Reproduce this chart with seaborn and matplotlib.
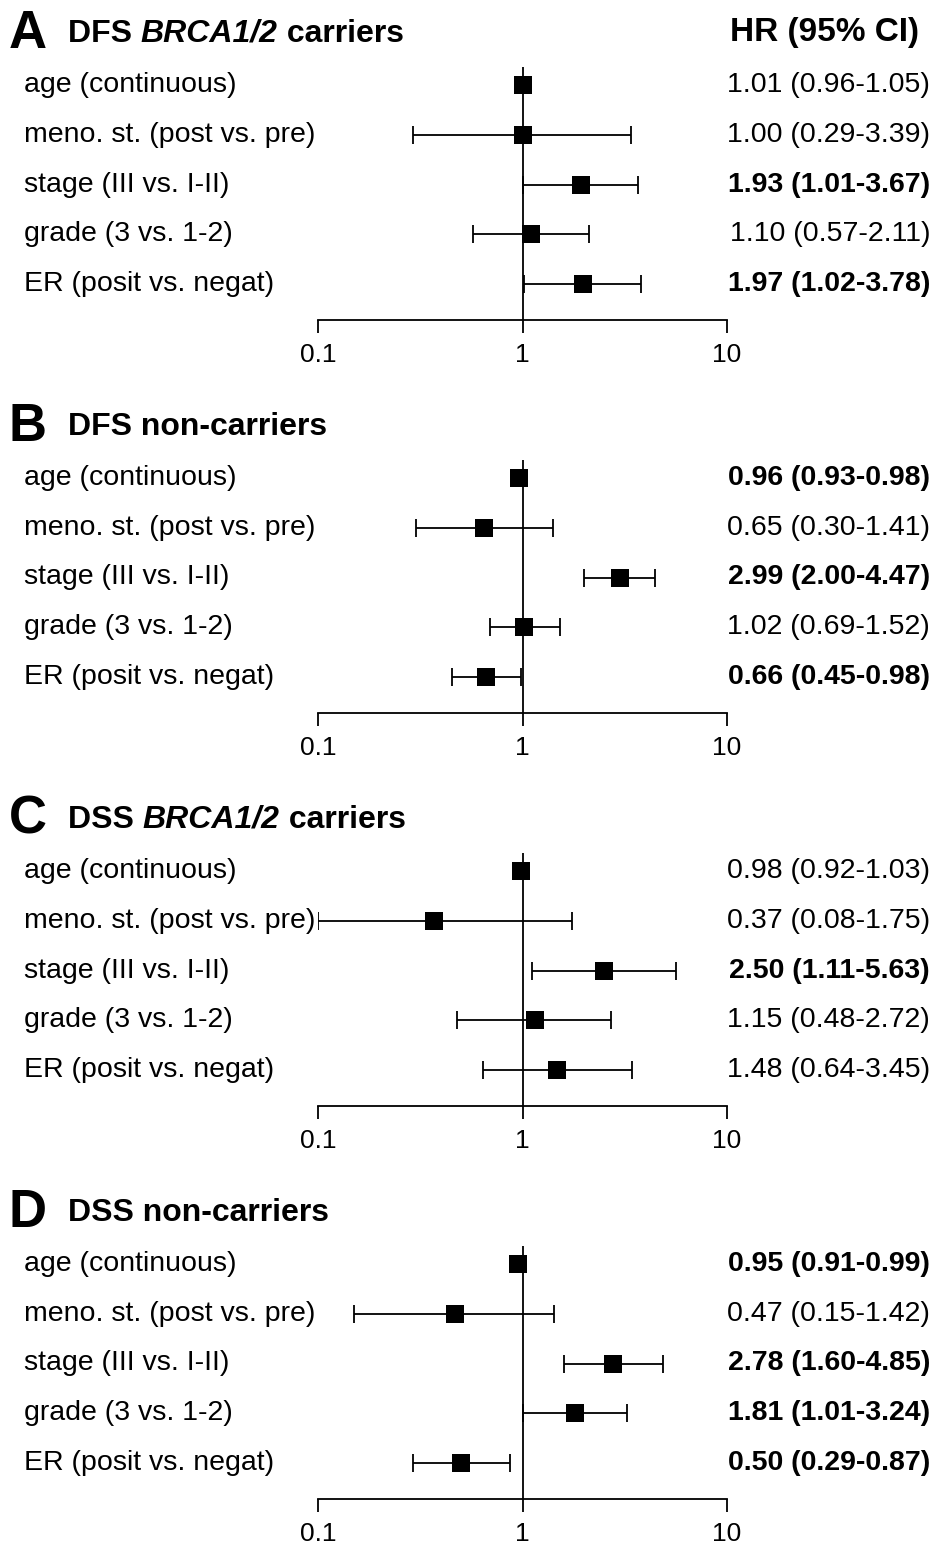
import numpy as np
import pandas as pd
import matplotlib
matplotlib.use("Agg")
import matplotlib.pyplot as plt
import matplotlib.transforms as mtransforms
import seaborn as sns

# ---- data --------------------------------------------------------------
rowLabels = ['age (continuous)', 'meno. st. (post vs. pre)', 'stage (III vs. I-II)',
             'grade (3 vs. 1-2)', 'ER (posit vs. negat)']

panelLetters = ['A', 'B', 'C', 'D']
panelTitles = [('DFS ', 'BRCA1/2', ' carriers'),
               ('DFS non-carriers', '', ''),
               ('DSS ', 'BRCA1/2', ' carriers'),
               ('DSS non-carriers', '', '')]

hrA = [1.01, 1.00, 1.93, 1.10, 1.97]
loA = [0.96, 0.29, 1.01, 0.57, 1.02]
hiA = [1.05, 3.39, 3.67, 2.11, 3.78]

hrB = [0.96, 0.65, 2.99, 1.02, 0.66]
loB = [0.93, 0.30, 2.00, 0.69, 0.45]
hiB = [0.98, 1.41, 4.47, 1.52, 0.98]

hrC = [0.98, 0.37, 2.50, 1.15, 1.48]
loC = [0.92, 0.08, 1.11, 0.48, 0.64]
hiC = [1.03, 1.75, 5.63, 2.72, 3.45]

hrD = [0.95, 0.47, 2.78, 1.81, 0.50]
loD = [0.91, 0.15, 1.60, 1.01, 0.29]
hiD = [0.99, 1.42, 4.85, 3.24, 0.87]

xTicks = [0.1, 1, 10]
xTickLabels = ['0.1', '1', '10']

panels = [(hrA, loA, hiA), (hrB, loB, hiB), (hrC, loC, hiC), (hrD, loD, hiD)]

# ---- style -------------------------------------------------------------
sns.set_style("ticks")
plt.rcParams['font.family'] = ['Liberation Sans', 'DejaVu Sans']
plt.rcParams['text.color'] = 'black'
plt.rcParams['xtick.color'] = 'black'
plt.rcParams['axes.edgecolor'] = 'black'

W, H = 934, 1546
fig = plt.figure(figsize=(W / 100, H / 100), dpi=100)

lw = 1.3
rowStep = 49.75
xLeft, xRight = 318, 727

for k, (hr, lo, hi) in enumerate(panels):
    row0 = 85 + 393 * k          # pixel y of first row
    axBottom = row0 + 4 * rowStep + 36
    axTop = row0 - 18
    ax = fig.add_axes([xLeft / W, 1 - axBottom / H, (xRight - xLeft) / W, (axBottom - axTop) / H])

    df = pd.DataFrame({'hr': hr, 'lo': lo, 'hi': hi, 'row': range(len(hr))})
    xmin = xTicks[0]
    loDraw = np.maximum(df['lo'], xmin)  # CI clipped at axis end

    ax.axvline(1, color='black', lw=lw, zorder=1)
    ax.errorbar(df['hr'], df['row'], xerr=[df['hr'] - loDraw, df['hi'] - df['hr']],
                fmt='none', ecolor='black', elinewidth=lw, capsize=6.5, capthick=lw, zorder=2)
    sns.scatterplot(data=df, x='hr', y='row', marker='s', s=160, color='black',
                    linewidth=0, ax=ax, zorder=3, legend=False)

    ax.set_xscale('log')
    ax.set_xlim(0.1, 10)
    ax.set_ylim(4 + 36 / rowStep, -18 / rowStep)
    ax.set_xticks(xTicks)
    ax.set_xticklabels(xTickLabels)
    ax.minorticks_off()
    ax.set_yticks([])
    ax.set_xlabel('')
    ax.set_ylabel('')
    for s in ['top', 'right', 'left']:
        ax.spines[s].set_visible(False)
    ax.spines['bottom'].set_linewidth(lw)
    ax.tick_params(axis='x', direction='out', length=9.5, width=lw, pad=7, labelsize=19, colors='black')
    ax.patch.set_alpha(0)

    # row labels and HR text
    trans = mtransforms.blended_transform_factory(fig.transFigure, ax.transData)
    for i, lab in enumerate(rowLabels):
        ax.text(24 / W, i, lab, transform=trans, ha='left', va='center', fontsize=20.5)
        sig = lo[i] > 1 or hi[i] < 1
        ax.text(930 / W, i, f'{hr[i]:.2f} ({lo[i]:.2f}-{hi[i]:.2f})', transform=trans,
                ha='right', va='center', fontsize=20.5, fontweight='bold' if sig else 'normal')

    # panel title
    ty = 1 - (row0 - 51) / H
    fig.text(9 / W, ty, panelLetters[k], fontsize=38, fontweight='bold', ha='left', va='center')
    t1, t2, t3 = panelTitles[k]
    p1 = fig.text(68 / W, ty, t1, fontsize=23, fontweight='bold', ha='left', va='center')
    if t2:
        p2 = ax.annotate(t2, xy=(1, 0), xycoords=p1, fontsize=23, fontweight='bold',
                         style='italic', ha='left', va='bottom', annotation_clip=False)
        ax.annotate(t3, xy=(1, 0), xycoords=p2, fontsize=23, fontweight='bold',
                    ha='left', va='bottom', annotation_clip=False)

fig.text(825 / W, 1 - 33 / H, 'HR (95% CI)', fontsize=24, fontweight='bold', ha='center', va='center')

fig.savefig('out.png', dpi=100)
